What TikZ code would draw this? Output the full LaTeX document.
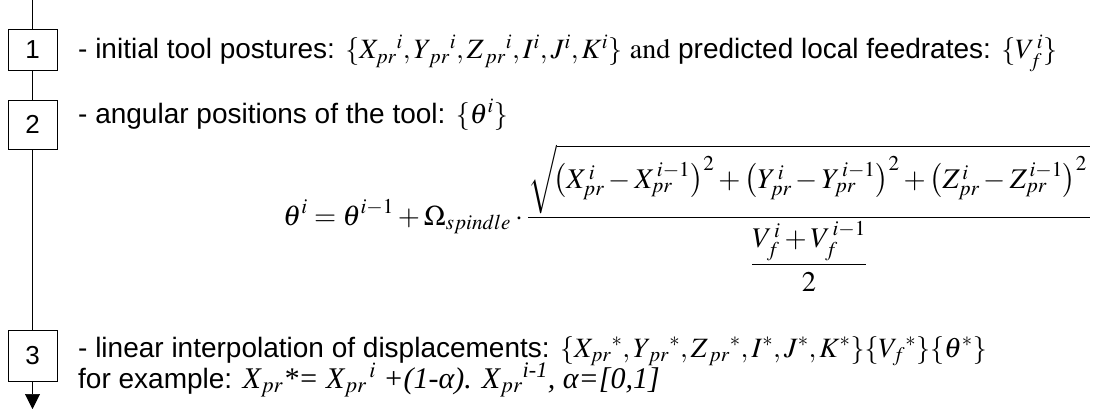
\documentclass[tikz,border=0pt]{standalone}
\usepackage{amsmath}
\usepackage{mathptmx}
\usepackage[no-math]{fontspec}
\setmainfont{Liberation Sans}
\newfontfamily\timesfam{Liberation Serif}
\usetikzlibrary{arrows.meta}

\begin{document}
\begin{tikzpicture}[x=1pt,y=-1pt,>={Triangle[width=15pt,length=15pt]},
    every node/.style={font=\fontsize{28}{33}\selectfont},
    stepbox/.style={draw,semithick,minimum width=49pt,inner sep=0pt,font=\fontsize{26}{30}\selectfont},
    txt/.style={anchor=base west,inner sep=0pt}]
    \useasboundingbox (0,0) rectangle (1102,412);
    % steps
    \coordinate (top) at (32.5,0);
    \node[stepbox,minimum height=41pt] (s1) at (32.5,49.5) {1};
    \node[stepbox,minimum height=49pt] (s2) at (32.5,124.5) {2};
    \node[stepbox,minimum height=51pt] (s3) at (32.5,355.5) {3};
    \coordinate (end) at (32.5,409);
    \draw[semithick] (top)--(s1);
    \draw[semithick] (s1)--(s2);
    \draw[semithick] (s2)--(s3);
    \draw[->,semithick] (s3)--(end);
    % texts
    \node[txt] (t1) at (78,59) {- initial tool postures: $\{X_{pr}{}^{i},Y_{\,pr}{}^{i},Z_{\,pr}{}^{i},I^{i},J^{i},K^{i}\}\ \mathrm{and}\ $predicted local feedrates: $\{V_f^{\,i}\}$};
    \node[txt] (t2) at (78,123) {- angular positions of the tool: $\{\theta^{i}\}$};
    \node[txt,font=\fontsize{28.5}{33}\selectfont] (eq) at (283,225) {$\displaystyle
      \theta^{i}=\theta^{i-1}+\Omega_{spindle}\cdot\frac{\sqrt{\!\left(X^{\,i}_{pr}-X^{\,i-1}_{pr}\right)^2+\left(Y^{\,i}_{pr}-Y^{\,i-1}_{pr}\right)^2+\left(Z^{\,i}_{pr}-Z^{\,i-1}_{pr}\right)^2\vphantom{\Big(}}}{\dfrac{V^{\,i}_f+V^{\,i-1}_f}{2}}$};
    \node[txt] (t3) at (78,357) {- linear interpolation of displacements: $\{X_{pr}{}^{*},Y_{\,pr}{}^{*},Z_{\,pr}{}^{*},I^{*},J^{*},K^{*}\}\{V_f{}^{*}\}\{\theta^{*}\}$};
    \node[txt] (t4) at (78,388) {for example: {\fontsize{30}{34}\selectfont\timesfam\itshape X$_{pr}$*= X$_{pr}{}^{\,i}$ +(1-α). X$_{pr}{}^{\text{i-1}}$, α=[0,1]}};
\end{tikzpicture}
\end{document}
